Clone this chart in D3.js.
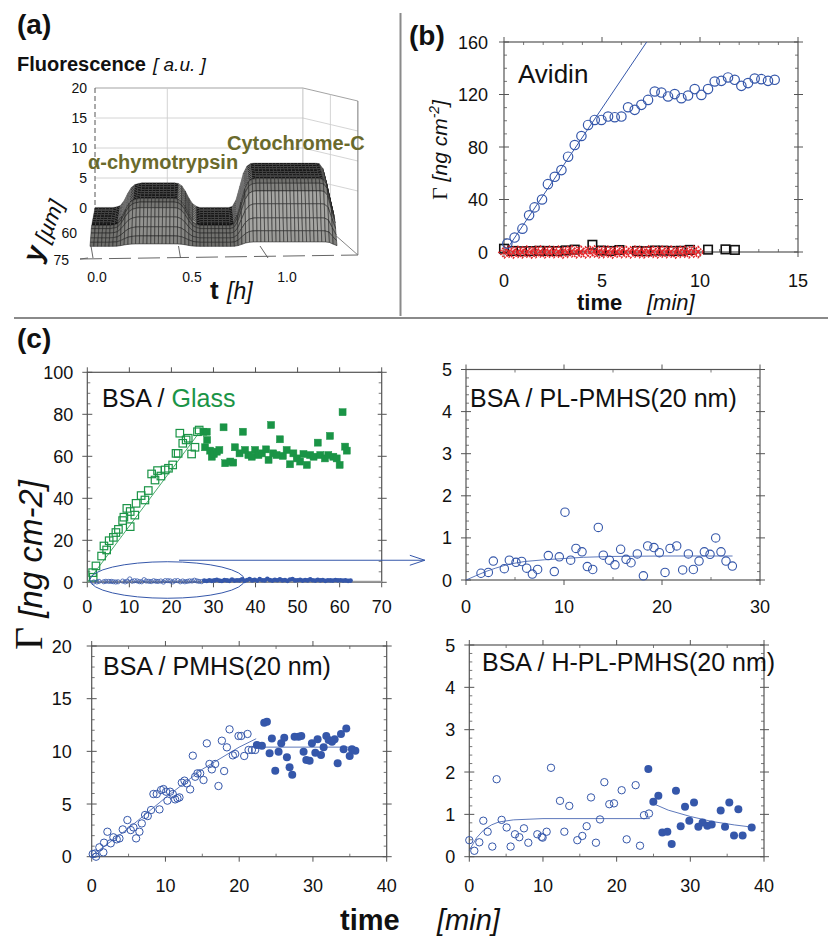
<!DOCTYPE html>
<html><head><meta charset="utf-8">
<script src="https://cdn.jsdelivr.net/npm/d3@7"></script>
<style>body{margin:0;background:#fff}svg{display:block}</style>
</head><body><svg id="c" width="828" height="936"></svg>
<script>
// ---------------- DATA ----------------
// (a) fluorescence surface: temporal profile at channel centre and profile across y
const surfT = [0.00,0.02,0.04,0.06,0.08,0.10,0.12,0.14,0.16,0.18,0.20,0.22,0.24,0.26,0.28,0.30,0.32,0.34,0.36,0.38,0.40,0.42,0.44,0.46,0.48,0.50,0.52,0.54,0.56,0.58,0.60,0.62,0.64,0.66,0.68,0.70,0.72,0.74,0.76,0.78,0.80,0.82,0.84,0.86,0.88,0.90,0.92,0.94,0.96,0.98,1.00,1.02,1.04,1.06,1.08,1.10,1.12,1.14,1.16,1.18,1.20,1.22,1.24,1.26,1.28,1.30];
const surfF = [0.1,0.1,0.1,0.1,0.1,0.1,0.2,0.4,1.2,2.4,3.4,3.9,4.1,4.2,4.2,4.2,4.2,4.2,4.2,4.2,4.2,4.2,4.2,4.1,3.7,2.8,1.6,0.7,0.3,0.1,0.1,0.1,0.1,0.1,0.1,0.1,0.1,0.1,0.3,1.4,3.6,5.8,7.0,7.4,7.5,7.5,7.5,7.5,7.5,7.5,7.5,7.5,7.5,7.5,7.5,7.5,7.5,7.5,7.5,7.5,7.5,7.5,7.4,6.6,3.8,1.2];
const surfY = [0,5,10,15,20,25,30,35,40,45,50,55,60,65,70,75];
const surfYProfile = [1,1,1,1,1,1,1,1,1,1,0.95,0.85,0.66,0.45,0.26,0.1];
const surfFloor = -2.3;
const aZTicks = [0,5,10,15,20];
const aTTicks = [0.0,0.5,1.0];
const aYTicks = [60,75];

// (b) Avidin and controls
const avidin = [[0.17,6.4],[0.54,11],[0.94,17.8],[1.28,28],[1.56,34],[1.94,40],[2.24,51.7],[2.59,57.3],[2.93,62.4],[3.27,72.6],[3.61,81.5],[3.95,88.4],[4.29,96.8],[4.63,100.6],[4.97,100.6],[5.31,103.2],[5.65,102.7],[5.99,103.2],[6.33,110.3],[6.67,108.3],[7.01,112.1],[7.35,115.9],[7.69,122.3],[8.03,121.5],[8.37,118.5],[8.71,120.3],[9.05,117.2],[9.39,119.2],[9.73,124.1],[10.07,119.7],[10.41,124.1],[10.75,129.9],[11.09,130.4],[11.43,133],[11.77,131.2],[12.11,126.6],[12.45,128.7],[12.79,132.2],[13.13,131.7],[13.47,130.4],[13.81,131.2]];
const avidinFit = [[0.05,0],[7.28,160]];
const ctrlSquares = [[0,2.5],[0.43,0.8],[0.89,0.6],[1.35,0.7],[1.79,0.9],[2.28,0.8],[2.72,0.7],[3.15,1.2],[3.61,1.8],[4.51,5.5],[4.95,1.1],[5.43,0.8],[5.89,1.5],[6.79,0.8],[7.27,0.6],[7.69,1.1],[8.13,1.0],[8.59,0.8],[9.03,0.9],[9.49,1.6],[10.41,1.8],[11.3,2.0],[11.78,1.6]];
const ctrlDiamonds = [[0.02,-0.3],[0.25,0.2],[0.47,-0.4],[0.71,0.1],[0.93,-0.2],[1.16,0.3],[1.40,-0.5],[1.62,0.0],[1.85,0.4],[2.08,-0.3],[2.31,0.2],[2.54,-0.1],[2.77,0.3],[3.00,-0.4],[3.23,0.1],[3.46,0.5],[3.69,-0.2],[3.92,0.2],[4.15,-0.3],[4.38,0.1],[4.61,0.4],[4.84,-0.2],[5.07,0.0],[5.30,0.3],[5.53,-0.4],[5.76,0.2],[5.99,-0.1],[6.22,0.1],[6.45,-0.3],[6.68,0.3],[6.91,0.0],[7.14,-0.2],[7.37,0.4],[7.60,0.1],[7.83,-0.3],[8.06,0.2],[8.29,-0.1],[8.52,0.3],[8.75,-0.4],[8.98,0.1],[9.21,0.2],[9.44,-0.2],[9.67,0.3],[9.90,0.0]];
const bXTicks = [0,5,10,15];
const bYTicks = [0,40,80,120,160];

// (c) BSA / Glass
const glassOpen = [[1.4,2.4],[1.27,4.6],[2.06,7.8],[3.4,12.5],[3.96,17.3],[4.6,15.4],[5.2,19.8],[6.2,21.4],[6.8,23.7],[7.4,25.2],[8.4,29.4],[8.7,31],[9.4,35.2],[10.2,33.7],[10.2,26.5],[11.3,32],[11.6,37.6],[12.8,41.3],[13.7,39.2],[14.5,43.7],[15.3,51.6],[16.1,48.7],[16.7,53.2],[17.5,50.6],[18.5,53.5],[19.3,54.3],[20.3,55.9],[21.1,61.4],[21.6,61.4],[22,71],[22.7,66.2],[23.5,67.8],[24,68.6],[24.8,61.1],[25.6,64.3],[26.2,71.7],[26.6,72.5]];
const glassFilled = [[27.6,71.7],[28.4,71.7],[28.5,67.8],[28,64.3],[29.2,62.7],[29.6,59.8],[30.1,61.1],[30.8,62.2],[32.4,73.8],[31.4,63],[32.8,56.7],[34,57.5],[34.7,57],[35.1,64.3],[36.2,61.4],[37,71.7],[37.5,63],[38.3,60.6],[39.1,59.8],[39.9,63],[40.7,60.6],[41.5,61.4],[42.5,63.3],[43.1,58.3],[43.7,74.9],[44.2,61.4],[45,60.6],[45.8,68.1],[46.5,60.2],[47.4,63],[48.2,56.2],[49,61.4],[49.8,59],[50.6,57.5],[51.4,61.1],[52.2,55.9],[53,60.6],[53.8,59.8],[54.8,66.5],[55.4,60.6],[56.5,59],[57.3,60.6],[57.7,69.7],[58.5,59.8],[59.3,59],[60,55.9],[60.7,81],[61.3,64.6],[61.7,62.7]];
const glassFit = [[0,0],[26.5,71]];
const bsaOnPlFilled = [[27.8,0.8],[28.4,0.6],[29.0,1.0],[29.6,0.7],[30.2,0.9],[30.8,1.2],[31.4,0.8],[32.0,0.6],[32.6,1.1],[33.2,0.9],[33.8,0.7],[34.4,1.3],[35.0,0.8],[35.6,1.0],[36.2,0.9],[36.8,1.4],[37.4,0.7],[38.0,1.1],[38.6,1.6],[39.2,0.9],[39.8,1.2],[40.4,0.8],[41.0,1.5],[41.6,1.0],[42.2,0.9],[42.8,1.7],[43.4,1.1],[44.0,0.8],[44.6,1.2],[45.2,1.0],[45.8,1.4],[46.4,0.9],[47.0,1.1],[47.6,0.7],[48.2,1.3],[48.8,1.6],[49.4,0.9],[50.0,1.0],[50.6,1.2],[51.2,0.8],[51.8,1.1],[52.4,0.9],[53.0,1.4],[53.6,1.0],[54.2,0.8],[54.8,1.2],[55.4,0.9],[56.0,1.1],[56.6,0.7],[57.2,1.0],[57.8,0.9],[58.4,0.8],[59.0,1.1],[59.6,0.9],[60.2,1.0],[60.8,0.8],[61.4,0.9],[62.0,0.7],[62.6,0.8]];
const tlXTicks = [0,10,20,30,40,50,60,70];
const tlYTicks = [0,20,40,60,80,100];

// (c) BSA / PL-PMHS
const plPmhs = [[1.53,0.16],[2.28,0.18],[2.79,0.45],[3.91,0.27],[4.42,0.47],[5.10,0.42],[5.68,0.44],[6.19,0.28],[6.77,0.14],[7.31,0.25],[8.40,0.58],[9.01,0.20],[9.52,0.55],[10.10,1.61],[10.68,0.47],[11.22,0.75],[11.84,0.67],[12.38,0.32],[12.93,0.25],[13.50,1.25],[14.01,0.59],[14.63,0.47],[15.20,0.36],[15.78,0.73],[16.33,0.49],[16.84,0.41],[17.48,0.62],[18.10,0.10],[18.54,0.81],[19.18,0.77],[19.73,0.65],[20.31,0.18],[20.82,0.75],[21.50,0.81],[22.11,0.24],[22.69,0.62],[23.20,0.25],[23.78,0.45],[24.32,0.67],[24.90,0.61],[25.48,1.00],[26.02,0.67],[26.53,0.45],[27.18,0.33]];
const plFit = [[0,0],[1,0.1],[2,0.2],[3,0.28],[4,0.35],[5,0.4],[6,0.44],[8,0.48],[10,0.51],[12,0.54],[15,0.56],[20,0.57],[25,0.57],[27.2,0.57]];
const trXTicks = [0,10,20,30];
const fiveTicks = [0,1,2,3,4,5];

// (c) BSA / PMHS
const pmhsOpen = [[0.14,0.25],[0.59,0],[0.45,0.3],[1.04,0.89],[1.58,0.41],[1.67,1.33],[2.13,2.37],[2.58,1.27],[2.94,1.84],[3.39,1.65],[3.76,1.74],[4.21,2.59],[4.84,3.48],[5.29,2.53],[5.66,2.78],[6.02,1.74],[6.47,2.37],[6.79,3.16],[7.24,3.96],[7.6,3.86],[8.05,4.43],[8.37,5.95],[8.82,5.95],[9.19,4.49],[9.41,6.33],[9.73,6.42],[10.09,6.17],[10.27,5.32],[10.63,6.17],[10.99,5.95],[11.31,5.44],[11.63,5.54],[11.9,5.63],[12.22,7.03],[12.58,7.22],[12.9,6.96],[13.35,6.39],[13.71,9.59],[14.03,7.59],[14.34,7.91],[14.71,7.91],[15.16,7.28],[15.61,10.76],[15.97,8.8],[16.29,8.29],[16.74,8.8],[17.19,6.71],[17.65,11.01],[17.96,8.13],[18.33,10.38],[18.69,12.09],[19.14,9.62],[19.46,9.75],[19.91,11.46],[20.27,11.46],[20.68,9.56],[21.13,11.65],[21.27,10.13],[21.72,10.13],[22.17,10.13]];
const pmhsFilled = [[22.4,10.6],[23.08,10.54],[23.39,12.72],[23.76,12.82],[24.12,9.81],[24.43,11.23],[24.89,8.16],[25.34,9.97],[25.7,10.76],[26.11,11.3],[26.47,9.43],[26.83,8.48],[27.19,7.78],[27.51,11.39],[28.05,11.39],[28.42,11.46],[28.73,9.97],[29.1,9.18],[29.55,9.11],[29.86,10.76],[30.32,9.87],[30.63,11.14],[31.09,9.65],[31.45,10.38],[31.81,11.46],[32.13,11.08],[32.58,10.92],[32.94,11.14],[33.35,8.86],[33.8,11.65],[34.16,10.19],[34.52,12.18],[34.98,9.56],[35.29,10.19],[35.75,10.06]];
const pmhsFitRise = [[0,0.1],[5,2.7],[10,5.6],[15,8.3],[20,10.4],[22.3,11.2]];
const pmhsFitFlat = [[22.5,10.4],[35.5,10.4]];
const blXTicks = [0,10,20,30,40];
const blYTicks = [0,5,10,15,20];

// (c) BSA / H-PL-PMHS
const hplOpen = [[0,0.39],[0.68,0.14],[1.36,0.34],[1.9,0.85],[2.49,0.59],[3.12,0.24],[3.71,1.83],[4.39,0.87],[5.07,0.69],[5.61,0.24],[6.2,0.53],[6.79,0.46],[7.42,0.67],[8.01,0.33],[9.23,0.53],[9.82,0.47],[9.95,0.45],[10.5,0.59],[11.09,2.1],[12.31,1.32],[12.9,0.59],[13.57,1.2],[14.66,0.39],[15.34,0.49],[15.93,0.72],[16.52,1.4],[17.19,0.33],[17.74,0.88],[18.33,1.76],[19,1.24],[19.64,1.26],[20.68,1.57],[21.36,0.41],[22.58,1.69],[23.17,0.26],[23.71,0.98],[24.39,1.02]];
const hplFilled = [[24.3,2.07],[24.98,1.3],[25.66,1.44],[26.2,0.57],[26.88,0.59],[27.47,0.3],[28.05,1.56],[28.69,0.72],[29.28,1.18],[29.86,0.85],[30.5,1.28],[31.09,0.71],[31.67,0.81],[32.31,0.73],[32.9,0.76],[34.12,1.09],[34.71,0.71],[35.29,1.28],[35.93,0.5],[36.52,1.12],[37.1,0.5],[38.33,0.69]];
const hplFitA = [[0,0.15],[1,0.45],[2,0.64],[3,0.75],[4,0.82],[6,0.87],[10,0.9],[24.5,0.9]];
const hplFitB = [[25,1.25],[27,1.1],[30,0.95],[33,0.83],[36,0.75],[38.3,0.7]];

// ---------------- DRAW ----------------
const SANS = 'Arial, "Liberation Sans", Helvetica, sans-serif';
const SERIF = '"Times New Roman", "Liberation Serif", serif';
const BLUE = '#3557aa', GREEN = '#1a9446', OLIVE = '#6a6a2c';
const svg = d3.select('#c');
svg.append('rect').attr('width',828).attr('height',936).attr('fill','#fff');

function txt(g, x, y, s, o = {}) {
  return g.append('text').attr('x', x).attr('y', y).text(s)
    .attr('font-family', o.family || SANS).attr('font-size', o.size || 18)
    .attr('font-weight', o.weight || 'normal').attr('font-style', o.style || 'normal')
    .attr('fill', o.fill || '#111').attr('text-anchor', o.anchor || 'start');
}
function seg(g, x1, y1, x2, y2, c, w, dash) {
  const l = g.append('line').attr('x1', x1).attr('y1', y1).attr('x2', x2).attr('y2', y2)
    .attr('stroke', c).attr('stroke-width', w);
  if (dash) l.attr('stroke-dasharray', dash);
  return l;
}

// separators
seg(svg, 400.5, 13, 400.5, 316, '#8a8a8a', 2);
seg(svg, 14, 318, 828, 318, '#8a8a8a', 2);

// generic frame
function frame(g, x, y, o) {
  const [x0, x1] = x.range(), [yb, yt] = y.range();
  const C = '#555';
  g.append('rect').attr('x', x0).attr('y', yt).attr('width', x1 - x0).attr('height', yb - yt)
    .attr('fill', 'none').attr('stroke', C).attr('stroke-width', 1.2);
  o.xMajor.forEach(v => { seg(g, x(v), yb, x(v), yb + 5, C, 1); seg(g, x(v), yt, x(v), yt - 5, C, 1); });
  (o.xMinor || []).forEach(v => { seg(g, x(v), yb, x(v), yb - 3, C, 0.8); seg(g, x(v), yt, x(v), yt + 3, C, 0.8); });
  o.yMajor.forEach(v => { seg(g, x0 - 5, y(v), x0 + 5, y(v), C, 1); seg(g, x1 - 4, y(v), x1 + 5, y(v), C, 1); });
  (o.yMinor || []).forEach(v => { seg(g, x0, y(v), x0 + 3, y(v), C, 0.8); seg(g, x1, y(v), x1 - 3, y(v), C, 0.8); });
  o.yMajor.forEach(v => txt(g, x0 - o.yGap, y(v) + 6.5, String(v), { anchor: 'end', size: 18 }));
  o.xMajor.forEach(v => txt(g, x(v), yb + o.xGap, String(v), { anchor: 'middle', size: 18 }));
}
function openCircles(g, x, y, data, r, c, w) {
  g.append('g').selectAll('circle').data(data).join('circle')
    .attr('cx', d => x(d[0])).attr('cy', d => y(d[1])).attr('r', r)
    .attr('fill', 'none').attr('stroke', c).attr('stroke-width', w);
}
function dots(g, x, y, data, r, c) {
  g.append('g').selectAll('circle').data(data).join('circle')
    .attr('cx', d => x(d[0])).attr('cy', d => y(d[1])).attr('r', r).attr('fill', c);
}
function squares(g, x, y, data, s, c, filled, w) {
  g.append('g').selectAll('rect').data(data).join('rect')
    .attr('x', d => x(d[0]) - s / 2).attr('y', d => y(d[1]) - s / 2).attr('width', s).attr('height', s)
    .attr('fill', filled ? c : 'none').attr('stroke', c).attr('stroke-width', w);
}
function fitLine(g, x, y, data, c, w) {
  g.append('path').datum(data).attr('d', d3.line().x(d => x(d[0])).y(d => y(d[1])))
    .attr('fill', 'none').attr('stroke', c).attr('stroke-width', w);
}

// ===== (a) 3D surface =====
const gA = svg.append('g');
txt(gA, 17, 34, '(a)', { size: 28, weight: 'bold' });
txt(gA, 17, 71, 'Fluorescence', { size: 20, weight: 'bold' });
txt(gA, 153, 71, '[ a.u. ]', { size: 19, style: 'italic' });

const aZ = d3.scaleLinear().domain([0, 20]).range([208, 88]);
const aXBack = d3.scaleLinear().domain([0, 1.3]).range([95, 330]);
const aXFront = d3.scaleLinear().domain([0, 1.3]).range([90, 337]);
const aDepth = d3.scaleLinear().domain([0, 75]).range([0, 1]);
const aOffY = d3.scaleLinear().domain([0, 75]).range([0, 26]);
const aBox = d3.scaleLinear().domain([0, 1.3]).range([95, 330]);
function proj(t, yy, f) { const u = aDepth(yy); return [aXBack(t) * (1 - u) + aXFront(t) * u, aZ(f) + aOffY(yy)]; }

// box / grid behind surface
const bx0 = aBox(0), bx1 = aBox(1.15), bxm = aBox(0.4), sdx = 55, sdy = 13;
[5, 10, 15].forEach(z => {
  seg(gA, bx0, aZ(z), bx1, aZ(z), '#cfcfcf', 0.9);
  seg(gA, bx1, aZ(z), bx1 + sdx, aZ(z) + sdy, '#cfcfcf', 0.9);
});
seg(gA, bx0, aZ(20), bx1, aZ(20), '#999', 0.9);
seg(gA, bx1, aZ(20), bx1 + sdx, aZ(20) + sdy, '#999', 0.9);
seg(gA, bxm, aZ(20), bxm, aZ(0), '#cfcfcf', 0.9);
seg(gA, bx1, aZ(20), bx1, aZ(0) + 22, '#bbb', 0.9);
seg(gA, bx1 + sdx / 2, aZ(20) + sdy / 2, bx1 + sdx / 2, aZ(0) + 32, '#cfcfcf', 0.9);
seg(gA, bx1 + sdx, aZ(20) + sdy, bx1 + sdx, 255, '#777', 1);
seg(gA, bx0, aZ(20), bx0, aZ(0) + 2, '#555', 1, '5,3');
seg(gA, 80, 259, bx1 + sdx, 255, '#666', 1, '22,7');
seg(gA, bx1 + 30, 233, bx1 + sdx, 255, '#777', 0.9);

// surface quads (painter's order: back rows first)
const nt = surfT.length, ny = surfY.length;
const F = (i, j) => surfFloor + (surfF[i] - surfFloor) * surfYProfile[j];
const quads = [];
for (let j = 0; j < ny - 1; j++) {
  for (let i = 0; i < nt - 1; i++) {
    const pts = [[i, j], [i + 1, j], [i + 1, j + 1], [i, j + 1]].map(([a, b]) => proj(surfT[a], surfY[b], F(a, b)));
    const dFy = ((F(i, j + 1) - F(i, j)) + (F(i + 1, j + 1) - F(i + 1, j))) / 2;
    const dFt = ((F(i + 1, j) - F(i, j)) + (F(i + 1, j + 1) - F(i, j + 1))) / 2;
    let fill, stroke, sw;
    if (dFy < -0.15) {
      const g = Math.round(95 + Math.min(70, -dFy * 38));
      fill = `rgb(${g},${g},${g - 3})`; stroke = '#1e1e1e'; sw = 0.55;
    }
    else if (dFt > 0.35) { fill = '#262626'; stroke = '#8a8a8a'; sw = 0.35; }
    else if (dFt < -0.35) { fill = '#9c9c98'; stroke = '#222'; sw = 0.5; }
    else { fill = '#121212'; stroke = '#4a4a4a'; sw = 0.3; }
    quads.push({ pts, fill, stroke, sw });
  }
}
gA.append('g').selectAll('path').data(quads).join('path')
  .attr('d', d => 'M' + d.pts.map(p => p.join(',')).join('L') + 'Z')
  .attr('fill', d => d.fill).attr('stroke', d => d.stroke).attr('stroke-width', d => d.sw)
  .attr('stroke-linejoin', 'round');

// axis labels (a)
aZTicks.forEach(v => txt(gA, 87, aZ(v) + 5, String(v), { anchor: 'end', size: 14 }));
const aYLabX = d3.scaleLinear().domain([60, 75]).range([77, 69]);
const aYLabY = d3.scaleLinear().domain([60, 75]).range([238, 265]);
aYTicks.forEach(v => txt(gA, aYLabX(v), aYLabY(v), String(v), { anchor: 'end', size: 14 }));
seg(gA, 80, 259, 88, 258, '#666', 1);
const aTLab = d3.scaleLinear().domain([0, 1]).range([97, 287]);
const aTTick = d3.scaleLinear().domain([0, 1]).range([93, 268]);
aTTicks.forEach(v => {
  txt(gA, aTLab(v), 282, v.toFixed(1), { anchor: 'middle', size: 14 });
  seg(gA, aTTick(v), 258, aTTick(v) - 2 + (v > 0.7 ? -6 : 0), 246, '#555', 0.9);
});
txt(gA, 210, 299, 't', { size: 26, weight: 'bold' });
txt(gA, 227, 299, '[h]', { size: 23, style: 'italic' });
const yl = gA.append('text').attr('transform', 'translate(40,264) rotate(-68)')
  .attr('font-family', SANS).attr('fill', '#111');
yl.append('tspan').text('y').attr('font-size', 28).attr('font-weight', 'bold');
yl.append('tspan').text(' [µm]').attr('font-size', 22).attr('font-style', 'italic');
txt(gA, 227, 150, 'Cytochrome-C', { size: 20, weight: 'bold', fill: OLIVE });
txt(gA, 88, 169, 'α-chymotrypsin', { size: 20, weight: 'bold', fill: OLIVE });

// ===== (b) =====
const gB = svg.append('g');
const xB = d3.scaleLinear().domain([0, 15]).range([504, 798]);
const yB = d3.scaleLinear().domain([0, 160]).range([252, 42]);
frame(gB, xB, yB, { xMajor: bXTicks, xMinor: d3.range(1, 15).filter(v => v % 5), yMajor: bYTicks, yMinor: d3.range(10, 160, 10).filter(v => v % 40), yGap: 16, xGap: 35 });
txt(gB, 409, 45, '(b)', { size: 28, weight: 'bold' });
txt(gB, 518, 83, 'Avidin', { size: 26 });
fitLine(gB, xB, yB, avidinFit, BLUE, 1);
squares(gB, xB, yB, ctrlSquares, 8.5, '#111', false, 1.6);
const dia = gB.append('g').selectAll('g').data(ctrlDiamonds).join('g')
  .attr('transform', d => `translate(${xB(d[0])},${yB(d[1])})`);
dia.append('path').attr('d', 'M0,-5.5L5.5,0L0,5.5L-5.5,0Z').attr('fill', 'none').attr('stroke', '#e3262a')
  .attr('stroke-width', 1.6).attr('stroke-dasharray', '1.8,1');
dia.append('path').attr('d', 'M-2,-2L2,2M-2,2L2,-2').attr('stroke', '#e3262a').attr('stroke-width', 1.2);
openCircles(gB, xB, yB, avidin, 4.7, BLUE, 1.2);
const bl = gB.append('text').attr('transform', 'translate(447,150) rotate(-90)')
  .attr('text-anchor', 'middle').attr('fill', '#111').attr('font-family', SANS);
bl.append('tspan').text('Γ').attr('font-family', SERIF).attr('font-size', 22);
bl.append('tspan').text(' [ng cm').attr('font-size', 21).attr('font-style', 'italic');
bl.append('tspan').text('-2').attr('font-size', 14).attr('font-style', 'italic').attr('dy', -8);
bl.append('tspan').text(']').attr('font-size', 21).attr('font-style', 'italic').attr('dy', 8);
txt(gB, 577, 310, 'time', { size: 22, weight: 'bold' });
txt(gB, 647, 310, '[min]', { size: 22, style: 'italic' });

// ===== (c) =====
const gC = svg.append('g');
txt(gC, 17, 348, '(c)', { size: 28, weight: 'bold' });

const xTL = d3.scaleLinear().domain([0, 70]).range([87.3, 381.7]);
const yTL = d3.scaleLinear().domain([0, 100]).range([582.3, 372.3]);
const xTR = d3.scaleLinear().domain([0, 30]).range([466, 760]);
const yTR = d3.scaleLinear().domain([0, 5]).range([580, 369.5]);

frame(gC, xTL, yTL, { xMajor: tlXTicks, yMajor: tlYTicks, yMinor: d3.range(5, 100, 5).filter(v => v % 20), yGap: 14, xGap: 31 });
fitLine(gC, xTL, yTL, [[0, 0.3], [70, 0.3]], '#9a9a9a', 2);
const t1 = txt(gC, 102, 407, 'BSA / ', { size: 25 });
t1.append('tspan').text('Glass').attr('fill', GREEN);
fitLine(gC, xTL, yTL, glassFit, GREEN, 0.8);
squares(gC, xTL, yTL, glassOpen, 7.5, GREEN, false, 1.2);
squares(gC, xTL, yTL, glassFilled, 7, GREEN, true, 0.5);
openCircles(gC, xTL, yTL, plPmhs, 2.1, BLUE, 0.8);
dots(gC, xTL, yTL, bsaOnPlFilled, 2.3, BLUE);
gC.append('ellipse').attr('cx', xTL(19)).attr('cy', yTL(1.1))
  .attr('rx', xTL(19) - xTL(0.6)).attr('ry', yTL(-7.6) - yTL(1.1))
  .attr('fill', 'none').attr('stroke', BLUE).attr('stroke-width', 1);
const arY = yTL(10.5), arX0 = xTL(21.8), arX1 = xTR(-4.2);
seg(gC, arX0, arY, arX1, arY, BLUE, 1.2);
gC.append('path').attr('d', `M${arX1 - 15},${arY - 5}L${arX1},${arY}L${arX1 - 15},${arY + 5}`)
  .attr('fill', 'none').attr('stroke', BLUE).attr('stroke-width', 1);

frame(gC, xTR, yTR, { xMajor: trXTicks, xMinor: [5, 15, 25], yMajor: fiveTicks, yMinor: d3.range(0.2, 5, 0.2).filter(v => Math.abs(v - Math.round(v)) > 0.05), yGap: 14, xGap: 33 });
txt(gC, 470, 407, 'BSA / PL-PMHS(20 nm)', { size: 25 });
fitLine(gC, xTR, yTR, plFit, BLUE, 0.8);
openCircles(gC, xTR, yTR, plPmhs, 4.2, BLUE, 1.1);

const xBL = d3.scaleLinear().domain([0, 40]).range([91.7, 386.7]);
const yBL = d3.scaleLinear().domain([0, 20]).range([856.7, 646]);
frame(gC, xBL, yBL, { xMajor: blXTicks, xMinor: [5, 15, 25, 35], yMajor: blYTicks, yMinor: d3.range(1, 20).filter(v => v % 5), yGap: 20, xGap: 35 });
txt(gC, 103, 675, 'BSA / PMHS(20 nm)', { size: 25 });
fitLine(gC, xBL, yBL, pmhsFitRise, BLUE, 0.8);
fitLine(gC, xBL, yBL, pmhsFitFlat, BLUE, 0.8);
openCircles(gC, xBL, yBL, pmhsOpen, 3.7, BLUE, 1);
dots(gC, xBL, yBL, pmhsFilled, 4, BLUE);

const xBR = d3.scaleLinear().domain([0, 40]).range([469.3, 764]);
const yBR = d3.scaleLinear().domain([0, 5]).range([856.7, 645]);
frame(gC, xBR, yBR, { xMajor: blXTicks, xMinor: [5, 15, 25, 35], yMajor: fiveTicks, yMinor: d3.range(0.2, 5, 0.2).filter(v => Math.abs(v - Math.round(v)) > 0.05), yGap: 14, xGap: 35 });
txt(gC, 482, 671, 'BSA / H-PL-PMHS(20 nm)', { size: 25 });
fitLine(gC, xBR, yBR, hplFitA, BLUE, 0.8);
fitLine(gC, xBR, yBR, hplFitB, BLUE, 0.8);
openCircles(gC, xBR, yBR, hplOpen, 3.7, BLUE, 1);
dots(gC, xBR, yBR, hplFilled, 4, BLUE);

const cl = gC.append('text').attr('transform', 'translate(42,565) rotate(-90)')
  .attr('text-anchor', 'middle').attr('fill', '#111').attr('font-family', SANS);
cl.append('tspan').text('Γ').attr('font-family', SERIF).attr('font-size', 40);
cl.append('tspan').text(' [ng cm-2]').attr('font-size', 33).attr('font-style', 'italic');
txt(gC, 340, 930, 'time', { size: 29, weight: 'bold' });
txt(gC, 437, 930, '[min]', { size: 29, style: 'italic' });
</script></body></html>
